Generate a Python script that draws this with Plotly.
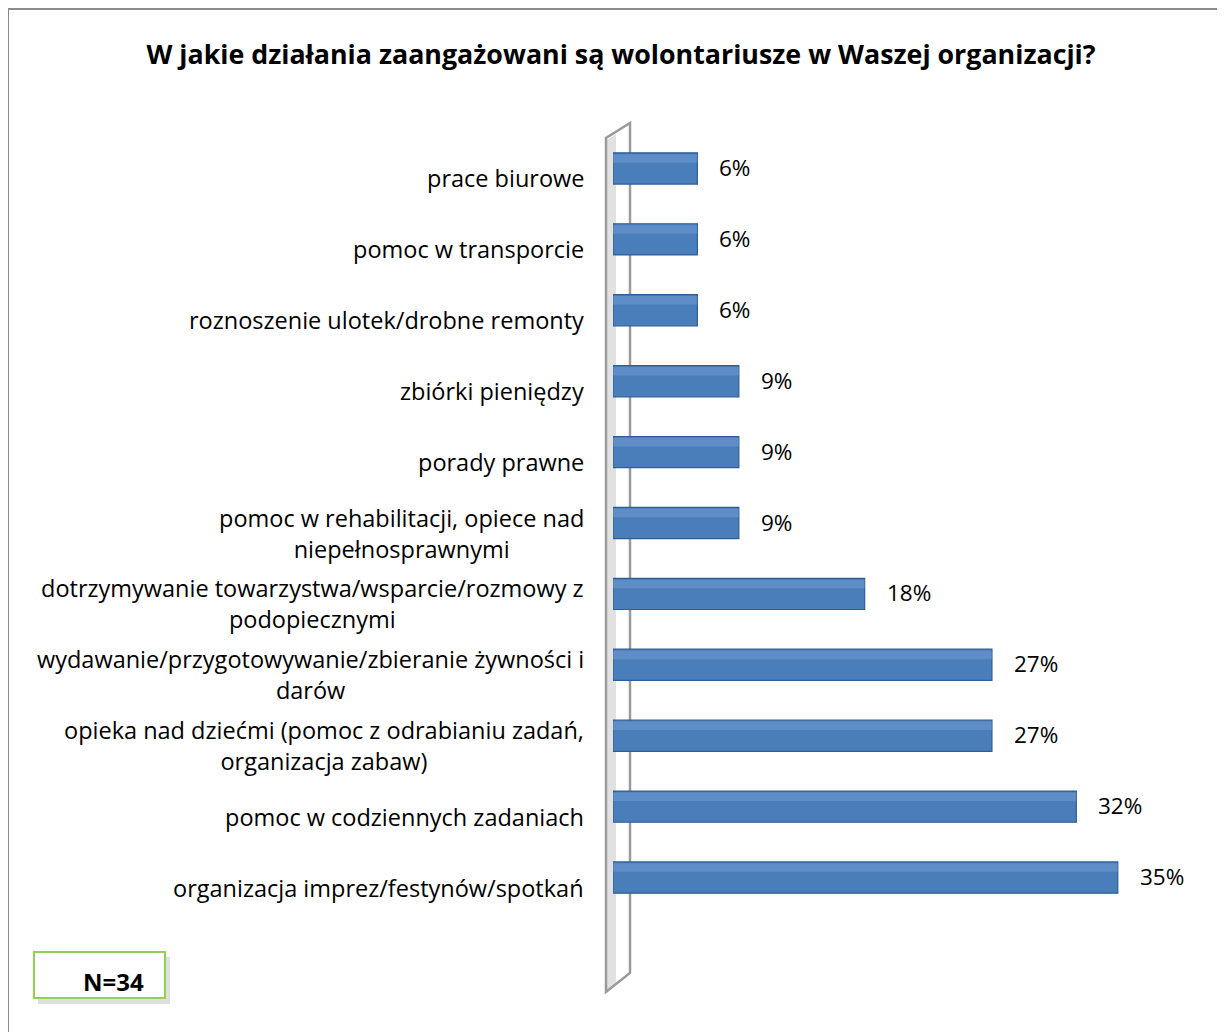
import plotly.graph_objects as go

# ---- data (top to bottom as in the chart) ----
categories = [
    "prace biurowe",
    "pomoc w transporcie",
    "roznoszenie ulotek/drobne remonty",
    "zbiórki pieniędzy",
    "porady prawne",
    "pomoc w rehabilitacji, opiece nad<br>niepełnosprawnymi",
    "dotrzymywanie towarzystwa/wsparcie/rozmowy z<br>podopiecznymi",
    "wydawanie/przygotowywanie/zbieranie żywności i<br>darów",
    "opieka nad dziećmi (pomoc z odrabianiu zadań,<br>organizacja zabaw)",
    "pomoc w codziennych zadaniach",
    "organizacja imprez/festynów/spotkań",
]
values = [5.9, 5.9, 5.9, 8.8, 8.8, 8.8, 17.6, 26.5, 26.5, 32.4, 35.3]
value_labels = ["6%", "6%", "6%", "9%", "9%", "9%", "18%", "27%", "27%", "32%", "35%"]
title_text = "W jakie działania zaangażowani są wolontariusze w Waszej organizacji?"
n_text = "N=34"

OFF = 8  # page body margin in the rendered html
W, H = 1225 - OFF, 1032 - OFF
L, R, T, B = 605, 40, 125, 119
PW, PH = W - L - R, H - T - B

def px(x):
    return (x - OFF - L) / PW

def py(y):
    return (H - B - (y - OFF)) / PH

FONT = "Open Sans"
ids = list(range(len(categories)))

fig = go.Figure()
fig.add_trace(go.Bar(
    y=ids, x=values, orientation="h",
    marker=dict(color="#4A7EBB", line=dict(color="#2F5E94", width=1.2)),
    width=0.44, hoverinfo="skip", showlegend=False,
))
# lighter highlight band to imitate 3D shading
fig.add_trace(go.Bar(
    y=ids, x=values, orientation="h",
    marker=dict(color="rgba(120,160,215,0.45)", line=dict(width=0)),
    width=0.12, offset=-0.2, hoverinfo="skip", showlegend=False,
))

annotations = []
for i, (c, v, lab) in enumerate(zip(categories, values, value_labels)):
    annotations.append(dict(
        x=0, y=i, xref="paper", yref="y", text=c, showarrow=False,
        xanchor="right", yanchor="middle", align="center", xshift=-27, yshift=-10,
        font=dict(family=FONT, size=23.5, color="#000000"),
    ))
    annotations.append(dict(
        x=v, y=i, xref="x", yref="y", text=lab, showarrow=False,
        xanchor="left", yanchor="middle", xshift=20, yshift=1,
        font=dict(family=FONT, size=22.5, color="#000000"),
    ))

annotations.append(dict(
    x=px(113), y=py(982), xref="paper", yref="paper", text="<b>" + n_text + "</b>",
    showarrow=False, xanchor="center", yanchor="middle",
    font=dict(family=FONT, size=24, color="#000000"),
))

shapes = [
    # outer chart border
    dict(type="rect", xref="paper", yref="paper", x0=px(8), x1=px(1223), y0=py(1040), y1=py(9),
         line=dict(color="#8C8C8C", width=2), fillcolor="rgba(0,0,0,0)", layer="below"),
    # wall shadow
    dict(type="path", xref="paper", yref="paper",
         path=f"M {px(607)},{py(990)} L {px(607)},{py(140)} L {px(616)},{py(134)} L {px(616)},{py(984)} Z",
         fillcolor="rgba(200,200,200,0.55)", line=dict(width=0), layer="below"),
    # 3D wall outline
    dict(type="path", xref="paper", yref="paper",
         path=f"M {px(606)},{py(992)} L {px(606)},{py(138)} L {px(630)},{py(123)} L {px(630)},{py(973)} Z",
         fillcolor="rgba(0,0,0,0)", line=dict(color="#9A9A9A", width=2.5), layer="below"),
    # N box shadow
    dict(type="rect", xref="paper", yref="paper", x0=px(38), x1=px(170), y0=py(1004), y1=py(957),
         fillcolor="rgba(0,0,0,0.12)", line=dict(width=0), layer="below"),
    # N box
    dict(type="rect", xref="paper", yref="paper", x0=px(34), x1=px(165), y0=py(998), y1=py(952),
         fillcolor="#FFFFFF", line=dict(color="#92D050", width=2), layer="below"),
]

fig.update_layout(
    width=W, height=H,
    margin=dict(l=L, r=R, t=T, b=B),
    paper_bgcolor="#FFFFFF", plot_bgcolor="rgba(0,0,0,0)",
    barmode="overlay",
    title=dict(text="<b>" + title_text + "</b>", x=(621 - OFF) / W, xanchor="center",
               y=1 - (55 - OFF) / H, yanchor="middle", xref="container", yref="container",
               font=dict(family=FONT, size=26.8, color="#000000")),
    xaxis=dict(range=[0, 40], visible=False, fixedrange=True),
    yaxis=dict(range=[len(categories) - 0.5, -0.5], visible=False, fixedrange=True),
    annotations=annotations,
    shapes=shapes,
)

fig.write_html("out.html")
